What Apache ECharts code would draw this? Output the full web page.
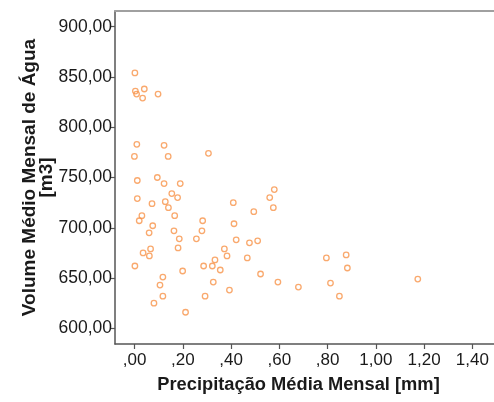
<!DOCTYPE html>
<html>
<head>
<meta charset="utf-8">
<script src="https://cdn.jsdelivr.net/npm/echarts@6/dist/echarts.min.js"></script>
<style>
  html, body { margin: 0; padding: 0; background: #fff; }
  #chart { width: 494px; height: 402px; }
</style>
</head>
<body>
<div id="chart"></div>
<script>
// Monthly mean precipitation [mm] for each observation
const precip = [
  0.001, 0.003, 0.008, 0.040, 0.033, 0.097, 0.009, 0.122, -0.001, 0.139,
  0.306, 0.011, 0.094, 0.122, 0.189, 0.154, 0.178, 0.011, 0.072, 0.127,
  0.140, 0.409, 0.030, 0.019, 0.166, 0.282, 0.412, 0.075, 0.060, 0.163,
  0.279, 0.185, 0.256, 0.421, 0.066, 0.180, 0.035, 0.061, 0.372, 0.383,
  0.001, 0.333, 0.286, 0.322, 0.355, 0.199, 0.117, 0.105, 0.117, 0.326,
  0.292, 0.393, 0.080, 0.211, 0.579, 0.560, 0.494, 0.575, 0.476, 0.510,
  0.467, 0.522, 0.594, 0.679, 0.795, 0.877, 0.882, 0.812, 0.849, 1.174
];

// Monthly mean water volume [m3] for the same observations
const volume = [
  854, 836, 833, 838, 829, 833, 783, 782, 771, 771,
  774, 747, 750, 744, 744, 734, 730, 729, 724, 726,
  720, 725, 712, 707, 712, 707, 704, 702, 695, 697,
  697, 689, 689, 688, 679, 680, 675, 672, 679, 672,
  662, 668, 662, 662, 658, 657, 651, 643, 632, 646,
  632, 638, 625, 616, 738, 730, 716, 720, 685, 687,
  670, 654, 646, 641, 670, 673, 660, 645, 632, 649
];

// Tick positions shown on each axis
const xTicks = [0, 0.2, 0.4, 0.6, 0.8, 1.0, 1.2, 1.4];
const yTicks = [600, 650, 700, 750, 800, 850, 900];

const xTitle = 'Precipitação Média Mensal [mm]';
const yTitle = 'Volume Médio Mensal de Água\n[m3]';

// Decimal comma, leading zero dropped below one (",20")
function fmt(v) {
  let s = Number(v).toFixed(2).replace('.', ',');
  if (s.startsWith('0,')) s = s.slice(1);
  return s;
}

const points = precip.map((x, i) => [x, volume[i]]);

const FONT = '"Liberation Sans", Arial, sans-serif';
const chart = echarts.init(document.getElementById('chart'), null, { renderer: 'canvas' });

chart.setOption({
  animation: false,
  backgroundColor: '#ffffff',
  grid: { left: 115, top: 11, right: -6, bottom: 58, containLabel: false },
  xAxis: [
    {
      type: 'value',
      min: -0.0815,
      max: 1.49,
      position: 'bottom',
      splitLine: { show: false },
      axisLine: { show: true, onZero: false, lineStyle: { color: '#555', width: 1.5 } },
      axisTick: { show: true, length: 5, customValues: xTicks, lineStyle: { color: '#555', width: 1.2 } },
      axisLabel: {
        customValues: xTicks, formatter: fmt, margin: 8,
        color: '#1a1a1a', fontSize: 17, fontFamily: FONT
      },
      name: xTitle,
      nameLocation: 'middle',
      nameGap: 32,
      nameMoveOverlap: false,
      nameTextStyle: {
        color: '#1a1a1a', fontSize: 18.3, fontWeight: 'bold', fontFamily: FONT,
        padding: [0, 12, 0, 0]
      }
    },
    {
      // frame line along the top of the plot
      type: 'value',
      min: -0.0815,
      max: 1.49,
      position: 'top',
      splitLine: { show: false },
      axisLine: { show: true, onZero: false, lineStyle: { color: '#a0a0a0', width: 2 } },
      axisTick: { show: false },
      axisLabel: { show: false }
    }
  ],
  yAxis: {
    type: 'value',
    min: 584.4,
    max: 915.6,
    splitLine: { show: false },
    axisLine: { show: true, onZero: false, lineStyle: { color: '#555', width: 1.5 } },
    axisTick: { show: true, length: 4, customValues: yTicks, lineStyle: { color: '#555', width: 1.2 } },
    axisLabel: {
      customValues: yTicks, formatter: fmt, margin: 3,
      color: '#1a1a1a', fontSize: 17.5, fontFamily: FONT
    },
    name: yTitle,
    nameLocation: 'middle',
    nameRotate: 90,
    nameGap: 60,
    nameMoveOverlap: false,
    nameTextStyle: { color: '#1a1a1a', fontSize: 19, fontWeight: 'bold', fontFamily: FONT, lineHeight: 17 }
  },
  series: [{
    type: 'scatter',
    data: points,
    symbol: 'circle',
    symbolSize: 5.5,
    itemStyle: { color: 'rgba(255,255,255,0)', borderColor: '#f7944a', borderWidth: 1.3 }
  }]
});
</script>
</body>
</html>
